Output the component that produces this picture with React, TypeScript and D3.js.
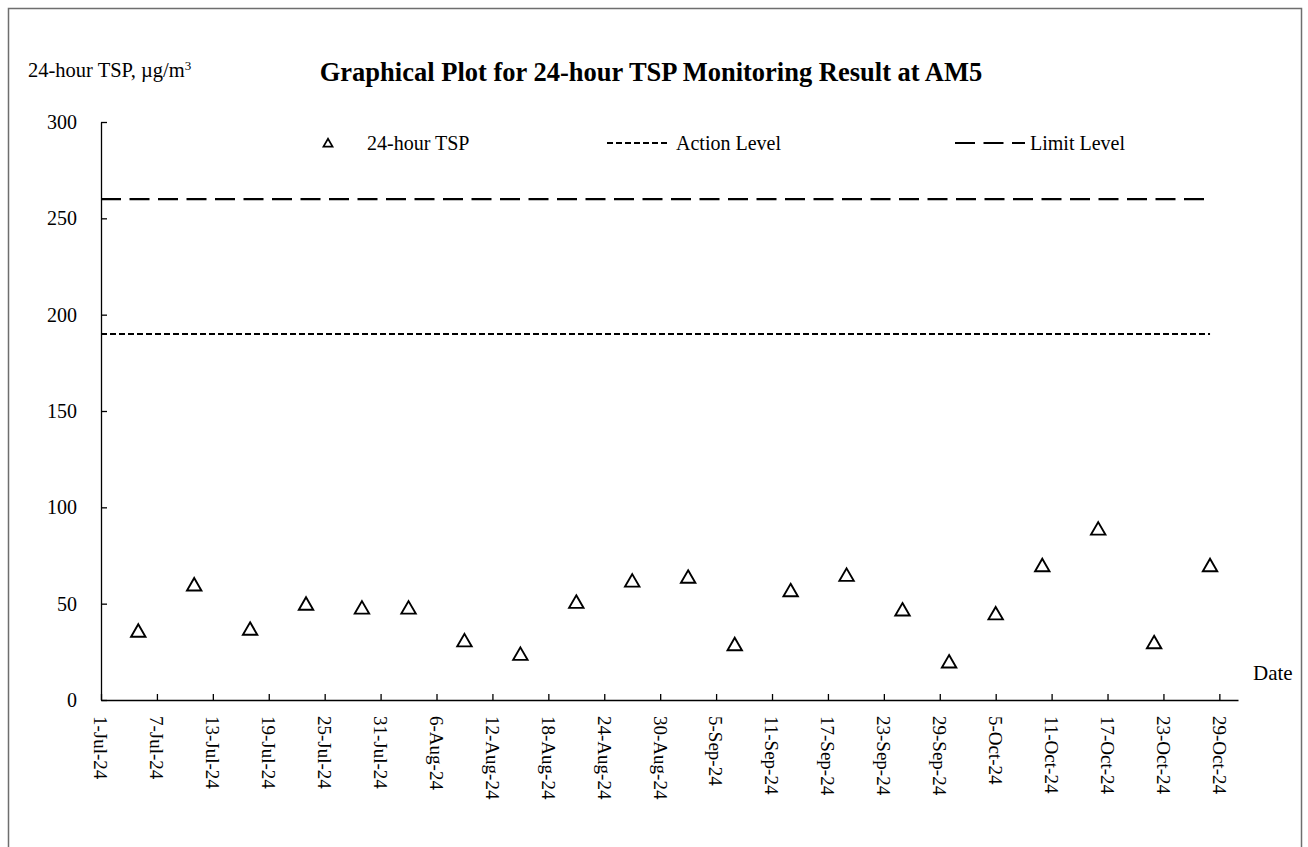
import React, { useRef, useEffect } from "react";
import * as d3 from "d3";

// sample dates and 24-hour TSP results (ug/m3)
const sampleDates = [
  "5-Jul-24", "11-Jul-24", "17-Jul-24", "23-Jul-24", "29-Jul-24", "3-Aug-24",
  "9-Aug-24", "15-Aug-24", "21-Aug-24", "27-Aug-24", "2-Sep-24", "7-Sep-24",
  "13-Sep-24", "19-Sep-24", "25-Sep-24", "30-Sep-24", "5-Oct-24", "10-Oct-24",
  "16-Oct-24", "22-Oct-24", "28-Oct-24",
];
const tspValues = [
  35, 59, 36, 49, 47, 47, 30, 23, 50, 61, 63, 28, 56, 64, 46, 19, 44, 69, 88, 29, 69,
];

const actionLevel = 190;
const limitLevel = 260;
const levelDates = ["1-Jul-24", "28-Oct-24"];

const xDomain = ["1-Jul-24", "31-Oct-24"];
const xTickLabels = [
  "1-Jul-24", "7-Jul-24", "13-Jul-24", "19-Jul-24", "25-Jul-24", "31-Jul-24",
  "6-Aug-24", "12-Aug-24", "18-Aug-24", "24-Aug-24", "30-Aug-24", "5-Sep-24",
  "11-Sep-24", "17-Sep-24", "23-Sep-24", "29-Sep-24", "5-Oct-24", "11-Oct-24",
  "17-Oct-24", "23-Oct-24", "29-Oct-24",
];
const yTicks = [0, 50, 100, 150, 200, 250, 300];

const FONT = "'Liberation Serif', 'Times New Roman', serif";

const App: React.FC = () => {
  const svgRef = useRef<SVGSVGElement>(null);

  useEffect(() => {
    const height = 847;
    const parse = d3.utcParse("%d-%b-%y");

    const svg = d3.select(svgRef.current);
    svg.selectAll("*").remove();

    const x = d3
      .scaleUtc()
      .domain(xDomain.map((d) => parse(d) as Date))
      .range([101, 1238]);
    const y = d3.scaleLinear().domain([0, 300]).range([700, 122]);

    // outer frame
    svg
      .append("rect")
      .attr("x", 8.5)
      .attr("y", 8.5)
      .attr("width", 1293)
      .attr("height", height)
      .attr("fill", "white")
      .attr("stroke", "#6e6e6e")
      .attr("stroke-width", 1.5);

    // title
    svg
      .append("text")
      .attr("x", 651)
      .attr("y", 81)
      .attr("text-anchor", "middle")
      .style("font-family", FONT)
      .style("font-size", "26.5px")
      .style("font-weight", "bold")
      .text("Graphical Plot for 24-hour TSP Monitoring Result at AM5");

    // y axis title
    const yTitle = svg
      .append("text")
      .attr("x", 28)
      .attr("y", 77)
      .style("font-family", FONT)
      .style("font-size", "20.5px");
    yTitle.append("tspan").text("24-hour TSP, \u00b5g/m");
    yTitle
      .append("tspan")
      .attr("dy", -7)
      .style("font-size", "13px")
      .text("3");

    // y axis (ticks inside)
    const yAxis = svg
      .append("g")
      .attr("transform", "translate(101,0)")
      .call(
        d3
          .axisRight(y)
          .tickValues(yTicks)
          .tickSize(6)
          .tickFormat(() => "")
          .tickSizeOuter(0)
      );
    yAxis.select(".domain").attr("stroke", "#000").attr("stroke-width", 1.3);
    yAxis.selectAll(".tick line").attr("stroke", "#000").attr("stroke-width", 1.3);

    svg
      .append("g")
      .selectAll("text")
      .data(yTicks)
      .enter()
      .append("text")
      .attr("x", 77)
      .attr("y", (d) => y(d))
      .attr("dy", "0.35em")
      .attr("text-anchor", "end")
      .style("font-family", FONT)
      .style("font-size", "20px")
      .text((d) => d);

    // x axis (ticks inside)
    const tickDates = xTickLabels.map((d) => parse(d) as Date);
    const xAxis = svg
      .append("g")
      .attr("transform", "translate(0,700)")
      .call(
        d3
          .axisTop(x)
          .tickValues(tickDates)
          .tickSize(6)
          .tickFormat(() => "")
          .tickSizeOuter(0)
      );
    xAxis.select(".domain").attr("stroke", "#000").attr("stroke-width", 1.3);
    xAxis.selectAll(".tick line").attr("stroke", "#000").attr("stroke-width", 1.3);

    svg
      .append("g")
      .selectAll("text")
      .data(xTickLabels)
      .enter()
      .append("text")
      .attr(
        "transform",
        (d) => `translate(${x(parse(d) as Date)},716) rotate(90)`
      )
      .attr("dy", "0.35em")
      .attr("text-anchor", "start")
      .style("font-family", FONT)
      .style("font-size", "19px")
      .text((d) => d);

    svg
      .append("text")
      .attr("x", 1253)
      .attr("y", 680)
      .style("font-family", FONT)
      .style("font-size", "21px")
      .text("Date");

    // action / limit levels
    const levelLine = d3
      .line<[Date, number]>()
      .x((d) => x(d[0]))
      .y((d) => y(d[1]));
    const lvDates = levelDates.map((d) => parse(d) as Date);

    svg
      .append("path")
      .attr("d", levelLine(lvDates.map((d) => [d, actionLevel] as [Date, number])))
      .attr("fill", "none")
      .attr("stroke", "#000")
      .attr("stroke-width", 2)
      .attr("stroke-dasharray", "6,3");

    svg
      .append("path")
      .attr("d", levelLine(lvDates.map((d) => [d, limitLevel] as [Date, number])))
      .attr("fill", "none")
      .attr("stroke", "#000")
      .attr("stroke-width", 2.2)
      .attr("stroke-dasharray", "20,8.5");

    // data markers
    const tri = d3.symbol().type(d3.symbolTriangle).size(90);
    svg
      .append("g")
      .selectAll("path")
      .data(sampleDates.map((d, i) => ({ date: parse(d) as Date, value: tspValues[i] })))
      .enter()
      .append("path")
      .attr("d", tri as any)
      .attr("transform", (d) => `translate(${x(d.date)},${y(d.value)})`)
      .attr("fill", "white")
      .attr("stroke", "#000")
      .attr("stroke-width", 1.9);

    // legend
    const legend = svg.append("g").style("font-family", FONT).style("font-size", "20px");
    legend
      .append("path")
      .attr("d", d3.symbol().type(d3.symbolTriangle).size(36)() as string)
      .attr("transform", "translate(328,144)")
      .attr("fill", "white")
      .attr("stroke", "#000")
      .attr("stroke-width", 1.7);
    legend.append("text").attr("x", 367).attr("y", 150).text("24-hour TSP");

    legend
      .append("line")
      .attr("x1", 607)
      .attr("x2", 667)
      .attr("y1", 143)
      .attr("y2", 143)
      .attr("stroke", "#000")
      .attr("stroke-width", 2)
      .attr("stroke-dasharray", "6,3");
    legend.append("text").attr("x", 676).attr("y", 150).text("Action Level");

    legend
      .append("line")
      .attr("x1", 955)
      .attr("x2", 1025)
      .attr("y1", 143)
      .attr("y2", 143)
      .attr("stroke", "#000")
      .attr("stroke-width", 2.2)
      .attr("stroke-dasharray", "20,8.5");
    legend.append("text").attr("x", 1030).attr("y", 150).text("Limit Level");
  }, []);

  return (
    <svg
      ref={svgRef}
      width={1308}
      height={847}
      style={{ position: "absolute", left: 0, top: 0, background: "white" }}
    ></svg>
  );
};

export default App;
